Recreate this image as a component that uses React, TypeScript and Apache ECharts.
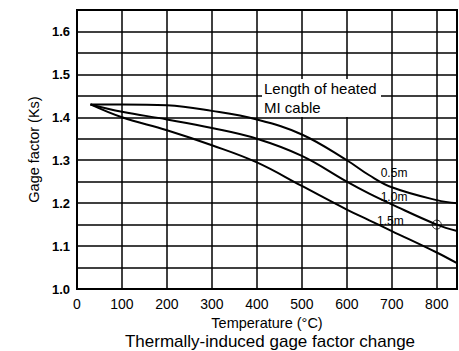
import React, { useEffect, useRef } from 'react';
import * as echarts from 'echarts';

const temperatures = [30, 100, 200, 300, 400, 500, 600, 650, 700, 800, 845];
const gf05 = [1.43, 1.43, 1.428, 1.415, 1.395, 1.36, 1.3, 1.265, 1.237, 1.207, 1.2];
const gf10 = [1.43, 1.413, 1.395, 1.375, 1.35, 1.31, 1.25, 1.222, 1.197, 1.15, 1.135];
const gf15 = [1.43, 1.4, 1.37, 1.335, 1.295, 1.24, 1.185, 1.16, 1.135, 1.085, 1.06];
const seriesNames = ['0.5m', '1.0m', '1.5m'];
const seriesLabelAt = [[705, 1.27], [705, 1.215], [697, 1.158]];
const markedPoint = [800, 1.15];

const FONT = '"Liberation Sans", Arial, sans-serif';

export default function App() {
  const ref = useRef<HTMLDivElement>(null);
  useEffect(() => {
    if (!ref.current) return;
    const chart = echarts.init(ref.current, null, { renderer: 'svg' });
    const all = [gf05, gf10, gf15];
    const series: any[] = all.map((vals, k) => ({
      type: 'line',
      name: seriesNames[k],
      data: temperatures.map((t, i) => [t, vals[i]]),
      smooth: 0.4,
      showSymbol: false,
      symbol: 'none',
      lineStyle: { color: '#000', width: 2 },
      markPoint: {
        symbol: 'circle',
        symbolSize: 0,
        itemStyle: { color: 'transparent' },
        label: {
          show: true,
          position: 'inside',
          formatter: seriesNames[k],
          color: '#000',
          fontSize: 12,
          fontFamily: FONT,
        },
        data: [{ coord: seriesLabelAt[k] }],
      },
    }));
    series.push({
      type: 'scatter',
      data: [markedPoint],
      symbol: 'circle',
      symbolSize: 9,
      itemStyle: { color: 'transparent', borderColor: '#000', borderWidth: 1 },
      z: 5,
    });
    chart.setOption({
      animation: false,
      backgroundColor: '#fff',
      grid: {
        left: 77,
        top: 10,
        width: 380,
        height: 279,
        show: true,
        borderColor: '#000',
        borderWidth: 2,
        containLabel: false,
      },
      xAxis: {
        type: 'value',
        min: 0,
        max: 845,
        interval: 100,
        axisLine: { show: false },
        axisTick: { show: false },
        splitLine: { show: true, lineStyle: { color: '#000', width: 1.5 } },
        axisLabel: {
          color: '#000',
          fontSize: 14,
          fontFamily: FONT,
          margin: 8,
          showMaxLabel: false,
          formatter: (v: number) => (v % 100 === 0 && v <= 800 ? String(v) : ''),
        },
        name: 'Temperature (°C)',
        nameLocation: 'middle',
        nameGap: 21,
        nameTextStyle: { color: '#000', fontSize: 14.5, fontFamily: FONT },
      },
      yAxis: {
        type: 'value',
        min: 1.0,
        max: 1.65,
        interval: 0.05,
        axisLine: { show: false },
        axisTick: { show: false },
        splitLine: { show: true, lineStyle: { color: '#000', width: 1.5 } },
        axisLabel: {
          color: '#000',
          fontSize: 13,
          fontWeight: 'bold',
          fontFamily: FONT,
          margin: 7,
          showMaxLabel: false,
          formatter: (v: number) =>
            Math.abs(v * 10 - Math.round(v * 10)) < 1e-6 ? v.toFixed(1) : '',
        },
        name: 'Gage factor (Ks)',
        nameLocation: 'middle',
        nameRotate: 90,
        nameGap: 20,
        nameTextStyle: { color: '#000', fontSize: 14.5, fontFamily: FONT },
      },
      graphic: [
        {
          type: 'rect',
          shape: { x: 262, y: 79, width: 119, height: 38 },
          style: { fill: '#fff' },
          z: 10,
        },
        {
          type: 'text',
          x: 264,
          y: 88,
          style: {
            text: 'Length of heated',
            fill: '#000',
            font: `15px ${FONT}`,
            textVerticalAlign: 'middle',
          },
          z: 11,
        },
        {
          type: 'text',
          x: 264,
          y: 107,
          style: {
            text: 'MI cable',
            fill: '#000',
            font: `15px ${FONT}`,
            textVerticalAlign: 'middle',
          },
          z: 11,
        },
        {
          type: 'text',
          x: 270,
          y: 341,
          style: {
            text: 'Thermally-induced gage factor change',
            fill: '#000',
            font: `17px ${FONT}`,
            textAlign: 'center',
            textVerticalAlign: 'middle',
          },
        },
      ],
      series,
    });
    return () => chart.dispose();
  }, []);
  return (
    <div
      ref={ref}
      style={{ position: 'absolute', left: 0, top: 0, width: 459, height: 351 }}
    />
  );
}
